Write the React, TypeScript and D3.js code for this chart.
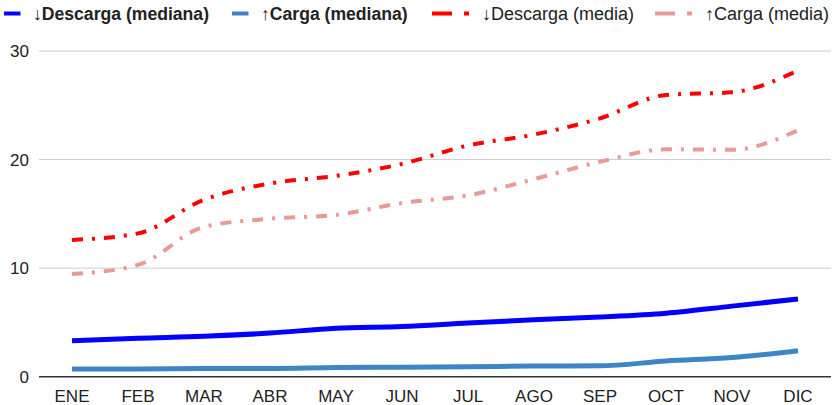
import React from "react";
import * as d3 from "d3";

const months = ["ENE", "FEB", "MAR", "ABR", "MAY", "JUN", "JUL", "AGO", "SEP", "OCT", "NOV", "DIC"];
const descargaMediana = [3.32, 3.55, 3.72, 4.02, 4.46, 4.62, 4.95, 5.25, 5.5, 5.85, 6.5, 7.16];
const cargaMediana = [0.71, 0.72, 0.75, 0.76, 0.85, 0.88, 0.92, 0.98, 1.0, 1.45, 1.76, 2.4];
const descargaMedia = [12.6, 13.2, 16.3, 17.8, 18.5, 19.6, 21.3, 22.3, 23.8, 25.95, 26.2, 28.2];
const cargaMedia = [9.45, 10.3, 13.8, 14.55, 14.9, 16.0, 16.7, 18.2, 19.8, 20.95, 20.9, 22.7];
const yTicks = [0, 10, 20, 30];

const series = [
  { name: "↓Descarga (mediana)", values: descargaMediana, color: "#0000ff", width: 5, dash: null as string | null, bold: true },
  { name: "↑Carga (mediana)", values: cargaMediana, color: "#3d85c6", width: 5, dash: null as string | null, bold: true },
  { name: "↓Descarga (media)", values: descargaMedia, color: "#ff0000", width: 4, dash: "11 9 3 9", bold: false },
  { name: "↑Carga (media)", values: cargaMedia, color: "#ea9999", width: 4, dash: "11 9 3 9", bold: false },
];

const legendX = [4, 232, 432, 655];

export default function App() {
  const W = 833, H = 405;
  const left = 39, right = 831, top = 51, bottom = 376.7;
  const x = d3.scalePoint<string>().domain(months).range([left, right]).padding(0.5);
  const y = d3.scaleLinear().domain([0, 30]).range([bottom, top]);
  const line = d3.line<number>()
    .x((_, i) => x(months[i]) as number)
    .y((d) => y(d))
    .curve(d3.curveMonotoneX);
  const font = "Arial, 'Liberation Sans', sans-serif";
  return (
    <svg width={W} height={H} style={{ position: "absolute", left: 0, top: 0, background: "#fff" }} fontFamily={font}>
      {yTicks.filter((t) => t !== 0).map((t) => (
        <line key={t} x1={left} x2={right} y1={y(t)} y2={y(t)} stroke="#cccccc" strokeWidth={1} />
      ))}
      {yTicks.map((t) => (
        <text key={"l" + t} x={29} y={y(t)} dy="0.36em" textAnchor="end" fontSize={17} fill="#222">{t}</text>
      ))}
      {months.map((m) => (
        <text key={m} x={x(m)} y={402} textAnchor="middle" fontSize={17} fill="#222">{m}</text>
      ))}
      {series.map((s) => (
        <path key={s.name} d={line(s.values) || ""} fill="none" stroke={s.color} strokeWidth={s.width}
          strokeDasharray={s.dash || undefined} />
      ))}
      <line x1={left} x2={right} y1={y(0)} y2={y(0)} stroke="#333" strokeWidth={1.5} />
      {series.map((s, i) => {
        const lx = legendX[i];
        return (
          <g key={"lg" + i}>
            {s.dash ? (
              <>
                <rect x={lx} y={11.5} width={20} height={4} fill={s.color} />
                <rect x={lx + 32} y={11.5} width={5} height={4} fill={s.color} />
              </>
            ) : (
              <rect x={lx} y={11.5} width={16.5} height={4} fill={s.color} />
            )}
            <text x={s.dash ? lx + 50 : lx + 29} y={19.5} fontSize={s.bold ? 17.6 : 18} fontWeight={s.bold ? "bold" : "normal"} fill="#222">{s.name}</text>
          </g>
        );
      })}
    </svg>
  );
}
